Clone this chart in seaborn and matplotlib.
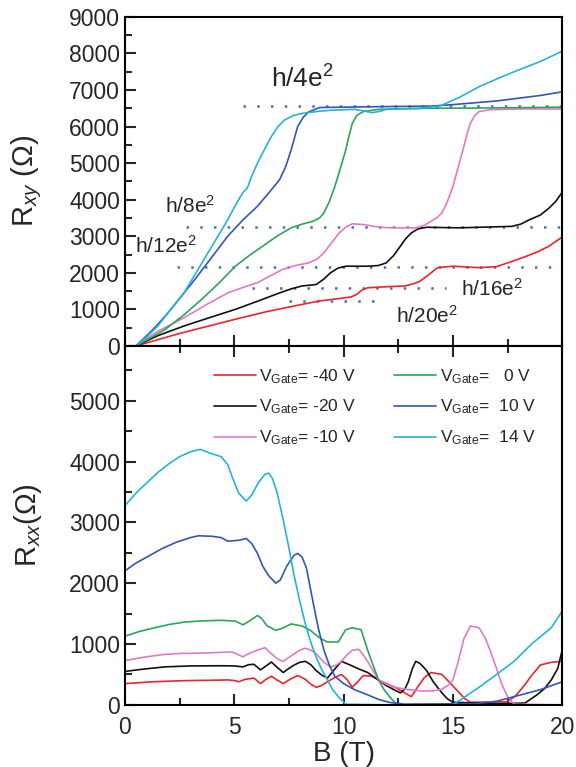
import numpy as np
import matplotlib
matplotlib.use('Agg')
import matplotlib.pyplot as plt
from matplotlib.ticker import MultipleLocator
import seaborn as sns

sns.set_style('ticks')
plt.rcParams['font.family'] = ['Liberation Sans', 'DejaVu Sans']
plt.rcParams['mathtext.fontset'] = 'custom'
plt.rcParams['mathtext.rm'] = 'Liberation Sans'
plt.rcParams['mathtext.it'] = 'Liberation Sans:italic'

labels = [r'$\mathrm{V}_{\mathrm{Gate}}$= -40 V', r'$\mathrm{V}_{\mathrm{Gate}}$= -20 V',
          r'$\mathrm{V}_{\mathrm{Gate}}$= -10 V', r'$\mathrm{V}_{\mathrm{Gate}}$=   0 V',
          r'$\mathrm{V}_{\mathrm{Gate}}$=  10 V', r'$\mathrm{V}_{\mathrm{Gate}}$=  14 V']
colors = ['#e8262b', '#111111', '#e07ac8', '#2ea35c', '#2f58b5', '#25b3d6']

# ---- Rxy (top) ----
b_xy_m40 = [0.5, 2.5, 3.8, 5.05, 6.5, 8.1, 8.9, 9.6, 10.1, 10.35, 10.6, 10.85, 11.1, 12.0, 12.8, 13.2, 13.5, 13.9,
            14.3, 15.0, 16.2, 17.0, 17.3, 17.8, 18.35, 18.9, 19.4, 20.0]
r_xy_m40 = [0, 340, 540, 730, 940, 1136, 1230, 1280, 1320, 1340, 1410, 1530, 1590, 1620, 1640, 1700, 1770, 1950,
            2140, 2180, 2140, 2170, 2230, 2330, 2450, 2580, 2730, 2980]
b_xy_m20 = [0.5, 1.5, 2.7, 3.9, 5.05, 6.1, 7.07, 7.6, 8.1, 8.75, 9.1, 9.4, 9.75, 10.1, 11.1, 11.6, 11.95, 12.3, 12.6,
            12.85, 13.1, 13.4, 13.8, 15.3, 17.7, 18.1, 18.5, 19.0, 19.4, 19.7, 20.0]
r_xy_m20 = [0, 280, 545, 780, 1000, 1230, 1450, 1560, 1640, 1680, 1830, 2000, 2130, 2180, 2180, 2200, 2270, 2480, 2730,
            2940, 3090, 3200, 3245, 3230, 3270, 3330, 3450, 3580, 3770, 3950, 4200]
b_xy_m10 = [0.5, 1.5, 2.7, 3.7, 4.7, 5.4, 6.06, 6.6, 7.2, 7.8, 8.4, 8.8, 9.1, 9.45, 9.8, 10.1, 10.4, 10.9, 11.5, 12.1,
            13.3, 13.7, 14.0, 14.3, 14.5, 14.75, 15.0, 15.25, 15.5, 15.65, 15.8, 16.0, 16.2, 16.7, 18.0, 20.0]
r_xy_m10 = [0, 400, 770, 1120, 1450, 1600, 1730, 1900, 2090, 2200, 2270, 2380, 2550, 2820, 3090, 3250, 3340, 3320, 3260,
            3230, 3230, 3300, 3410, 3520, 3640, 3950, 4360, 4900, 5450, 5800, 6090, 6300, 6410, 6460, 6480, 6480]
b_xy_0 = [0.5, 1.2, 1.85, 2.7, 3.5, 4.3, 5.05, 5.7, 6.4, 7.0, 7.6, 8.1, 8.6, 8.9, 9.1, 9.35, 9.6, 9.85, 10.1, 10.25,
          10.4, 10.6, 10.9, 11.6, 14.0, 17.0, 20.0]
r_xy_0 = [0, 230, 455, 850, 1270, 1720, 2180, 2480, 2770, 3020, 3230, 3330, 3410, 3500, 3640, 3950, 4360, 4850, 5360,
          5750, 6090, 6300, 6410, 6470, 6500, 6510, 6530]
b_xy_10 = [0.5, 1.2, 1.85, 2.5, 3.2, 4.0, 4.7, 5.4, 6.06, 6.6, 7.07, 7.35, 7.6, 7.9, 8.15, 8.4, 8.9, 11.0, 14.0, 15.0,
           17.0, 19.0, 20.0]
r_xy_10 = [0, 400, 820, 1300, 1820, 2450, 3000, 3450, 3820, 4200, 4545, 4900, 5360, 6000, 6250, 6400, 6520, 6540, 6560,
           6600, 6700, 6850, 6950]
b_xy_14 = [0.5, 1.0, 1.5, 2.1, 2.7, 3.2, 3.7, 4.2, 4.7, 5.1, 5.4, 5.6, 5.8, 6.06, 6.4, 6.7, 7.0, 7.3, 7.7, 8.1, 8.9,
           9.5, 10.5, 11.0, 11.3, 11.7, 12.0, 13.5, 14.4, 15.3, 16.2, 17.0, 17.8, 19.0, 20.0]
r_xy_14 = [0, 250, 545, 1000, 1450, 1950, 2450, 2950, 3450, 3900, 4200, 4320, 4650, 5000, 5400, 5730, 6000, 6180, 6300,
           6360, 6420, 6450, 6470, 6420, 6380, 6420, 6480, 6500, 6560, 6800, 7090, 7300, 7500, 7780, 8060]

# ---- Rxx (bottom) ----
b_xx_m40 = [0, 1.3, 2.7, 4.0, 4.7, 5.0, 5.2, 5.5, 5.9, 6.2, 6.45, 6.7, 6.95, 7.24, 7.55, 7.9, 8.25, 8.5, 8.75, 9.0,
            9.26, 9.6, 9.9, 10.15, 10.4, 10.65, 10.9, 11.3, 11.6, 11.95, 12.4, 12.8, 13.1, 13.4, 13.7, 14.0, 14.5,
            14.9, 15.3, 15.55, 15.8, 17.5, 17.9, 18.2, 18.6, 19.0, 19.5, 20.0]
r_xx_m40 = [350, 380, 398, 405, 410, 400, 380, 420, 440, 350, 420, 470, 410, 350, 420, 483, 420, 340, 288, 320,
            380, 450, 500, 420, 288, 380, 483, 470, 410, 350, 280, 196, 135, 300, 450, 532, 500,
            350, 196, 100, 43, 50, 160, 290, 480, 655, 700, 716]
b_xx_m20 = [0, 0.9, 1.85, 3.0, 4.4, 5.0, 5.4, 5.65, 5.9, 6.2, 6.45, 6.7, 6.95, 7.24, 7.5, 7.74, 8.0, 8.25, 8.5, 8.75,
            9.0, 9.26, 9.6, 9.9, 10.3, 10.7, 11.1, 11.5, 11.95, 12.3, 12.6, 12.8, 12.96, 13.15, 13.3, 13.5, 13.8,
            14.1, 14.5, 14.75, 15.0, 17.0, 18.3, 18.85, 19.2, 19.5, 19.8, 20.0]
r_xx_m20 = [550, 590, 625, 640, 643, 640, 625, 660, 667, 575, 640, 704, 620, 532, 600, 655, 700, 716, 660, 563,
            490, 440, 590, 716, 655, 590, 532, 430, 318, 250, 196, 260, 380, 600, 716, 680, 563,
            380, 196, 100, 43, 20, 30, 165, 270, 410, 600, 900]
b_xx_m10 = [0, 0.8, 1.7, 2.5, 3.37, 4.2, 4.9, 5.15, 5.4, 5.7, 6.06, 6.4, 6.7, 7.0, 7.24, 7.5, 7.74, 8.0, 8.25, 8.5,
            8.75, 9.1, 9.4, 9.65, 9.9, 10.15, 10.4, 10.7, 10.9, 11.1, 11.35, 11.6, 12.0, 12.3, 13.0, 13.6, 14.1,
            14.5, 14.8, 15.0, 15.25, 15.5, 15.8, 16.2, 16.5, 16.75, 17.0, 17.25, 17.5, 17.8, 20.0]
r_xx_m10 = [728, 780, 826, 845, 850, 860, 870, 830, 790, 850, 900, 940, 838, 750, 716, 780, 838, 900, 930, 900,
            838, 700, 625, 650, 716, 820, 900, 912, 820, 716, 560, 410, 330, 290, 250, 226, 230,
            257, 330, 410, 720, 1083, 1297, 1267, 1083, 850, 594, 330, 135, 12, 0]
b_xx_0 = [0, 0.7, 1.35, 2.0, 2.7, 3.5, 4.4, 5.05, 5.4, 5.7, 6.06, 6.25, 6.5, 6.9, 7.2, 7.6, 8.1, 8.5, 8.75, 9.0, 9.26,
          9.76, 9.95, 10.1, 10.4, 10.8, 11.1, 11.35, 11.6, 11.85, 12.1, 12.45, 20.0]
r_xx_0 = [1130, 1210, 1267, 1320, 1360, 1380, 1390, 1377, 1316, 1380, 1470, 1420, 1300, 1224, 1260, 1330, 1297, 1220,
          1145, 1080, 1034, 1034, 1150, 1236, 1267, 1236, 900, 650, 410, 250, 135, 0, 0]
b_xx_10 = [0, 0.5, 1.0, 1.7, 2.36, 3.0, 3.37, 4.0, 4.4, 4.7, 5.2, 5.55, 5.8, 6.06, 6.3, 6.57, 6.9, 7.1, 7.4, 7.74, 7.9,
           8.1, 8.3, 8.6, 8.85, 9.1, 9.35, 9.6, 10.0, 10.5, 11.1, 11.6, 12.1, 12.8, 16.0, 17.0, 17.8, 19.0, 20.0]
r_xx_10 = [2203, 2330, 2430, 2570, 2675, 2750, 2780, 2770, 2750, 2690, 2705, 2735, 2650, 2490, 2280, 2124, 2000, 2050,
           2280, 2460, 2490, 2430, 2250, 1695, 1250, 900, 650, 470, 350, 250, 165, 90, 40, 12, 20, 60, 135, 250, 380]
b_xx_14 = [0, 0.5, 1.0, 1.5, 2.0, 2.5, 3.0, 3.45, 3.87, 4.4, 4.7, 4.9, 5.2, 5.55, 5.8, 6.1, 6.4, 6.57, 6.75, 6.95,
           7.24, 7.5, 7.74, 8.0, 8.25, 8.5, 8.75, 9.0, 9.26, 9.5, 9.76, 10.1, 12.0, 15.0, 15.5, 16.2, 17.0, 17.8,
           18.6, 19.5, 20.0]
r_xx_14 = [3274, 3480, 3650, 3820, 3960, 4080, 4160, 4200, 4140, 4080, 3950, 3750, 3480, 3350, 3450, 3650, 3790, 3810,
           3720, 3500, 3040, 2580, 2120, 1700, 1330, 1030, 780, 580, 410, 250, 135, 10, 0, 0, 120, 290, 500, 716,
           1000, 1267, 1540]

# quantum Hall plateau reference lines: (level, start B, end B)
plateau_lvl = [6560, 3260, 2170, 1580, 1230]
plateau_b0 = [5.4, 2.8, 2.4, 5.8, 7.5]
plateau_b1 = [20.0, 20.0, 19.7, 14.7, 11.7]

xy_b = [b_xy_m40, b_xy_m20, b_xy_m10, b_xy_0, b_xy_10, b_xy_14]
xy_r = [r_xy_m40, r_xy_m20, r_xy_m10, r_xy_0, r_xy_10, r_xy_14]
xx_b = [b_xx_m40, b_xx_m20, b_xx_m10, b_xx_0, b_xx_10, b_xx_14]
xx_r = [r_xx_m40, r_xx_m20, r_xx_m10, r_xx_0, r_xx_10, r_xx_14]

fig = plt.figure(figsize=(5.76, 7.67), dpi=100)
ax1 = fig.add_axes([0.217, 0.549, 0.759, 0.429])
ax2 = fig.add_axes([0.217, 0.081, 0.759, 0.468])

dot = (0, (1, 4.5))
for lvl, b0, b1 in zip(plateau_lvl, plateau_b0, plateau_b1):
    ax1.plot([b0, b1], [lvl, lvl], color='#4a6fb5', lw=1.8, ls=dot, zorder=1)

for b, r, c in zip(xy_b, xy_r, colors):
    sns.lineplot(x=b, y=r, color=c, lw=1.2, ax=ax1, estimator=None, zorder=2)
for b, r, c, lab in zip(xx_b, xx_r, colors, labels):
    sns.lineplot(x=b, y=r, color=c, lw=1.2, ax=ax2, estimator=None, label=lab)

ax1.set_xlim(0, 20)
ax1.set_ylim(0, 9000)
ax2.set_xlim(0, 20)
ax2.set_ylim(0, 5900)

ax1.text(8.1, 7300, r'h/4e$^2$', fontsize=19, ha='center', va='center')
ax1.text(1.85, 3830, r'h/8e$^2$', fontsize=15, ha='left', va='center')
ax1.text(0.45, 2730, r'h/12e$^2$', fontsize=15, ha='left', va='center')
ax1.text(15.35, 1560, r'h/16e$^2$', fontsize=15, ha='left', va='center')
ax1.text(12.4, 830, r'h/20e$^2$', fontsize=15, ha='left', va='center')

for ax in (ax1, ax2):
    ax.xaxis.set_major_locator(MultipleLocator(5))
    ax.xaxis.set_minor_locator(MultipleLocator(2.5))
    ax.yaxis.set_major_locator(MultipleLocator(1000))
    ax.yaxis.set_minor_locator(MultipleLocator(500))
    ax.tick_params(which='both', direction='in', width=1.5, labelsize=16.5)
    ax.tick_params(which='major', length=8)
    ax.tick_params(which='minor', length=5)
    for s in ax.spines.values():
        s.set_linewidth(1.5)
        s.set_color('black')

ax1.tick_params(axis='x', labelbottom=False)
ax2.tick_params(axis='x', top=True, which='both')
ax2.set_yticks(range(0, 6000, 1000))
ax2.set_xticks([0, 5, 10, 15, 20])
ax2.tick_params(axis='x', pad=8)

ax1.set_ylabel(r'R$_{xy}$ (Ω)', fontsize=21)
ax1.yaxis.set_label_coords(-0.185, 0.5)
ax2.set_ylabel(r'R$_{xx}$(Ω)', fontsize=21)
ax2.yaxis.set_label_coords(-0.185, 0.5)
ax2.set_xlabel('B (T)', fontsize=20)
ax2.xaxis.set_label_coords(0.5, -0.1)

ax2.legend(ncol=2, loc='upper right', bbox_to_anchor=(0.975, 0.985), frameon=False,
           fontsize=12.5, handlelength=2.4, handletextpad=0.2, columnspacing=2.2,
           labelspacing=0.7)

fig.savefig('out.png', dpi=100)
